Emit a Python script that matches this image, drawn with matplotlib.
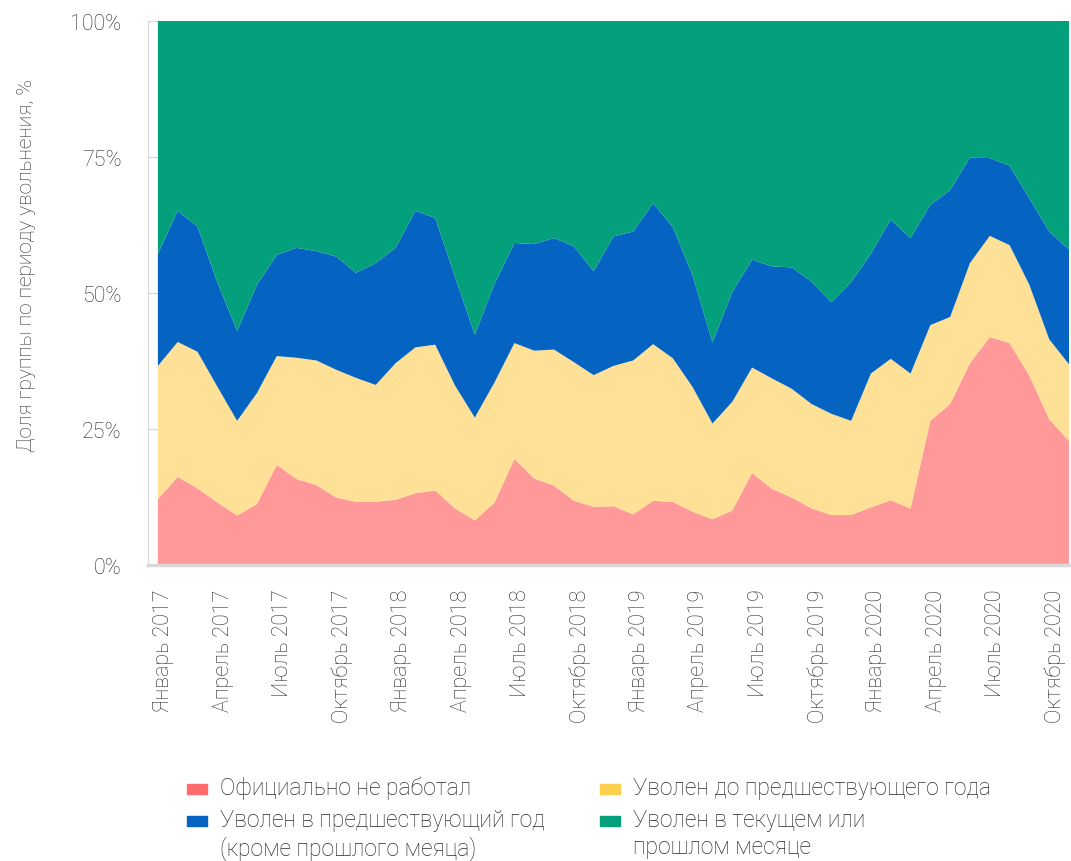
import matplotlib
matplotlib.use('Agg')
import matplotlib.pyplot as plt
import matplotlib.transforms as mtransforms
from matplotlib.patches import Rectangle
import numpy as np

plt.rcParams['font.family'] = ['Roboto', 'DejaVu Sans']

# Доли групп (в %), январь 2017 - ноябрь 2020, по месяцам
ne_rabotal = [12.1, 16.2, 14.1, 11.5, 9.1, 11.2, 18.4, 15.8, 14.7, 12.4,
              11.6, 11.6, 12.0, 13.2, 13.7, 10.4, 8.2, 11.5, 19.5, 15.9,
              14.6, 11.8, 10.7, 10.8, 9.3, 11.8, 11.6, 9.8, 8.4, 10.0,
              16.9, 14.0, 12.4, 10.4, 9.2, 9.2, 10.6, 11.9, 10.4, 26.5,
              29.6, 37.1, 41.9, 40.8, 34.8, 26.8, 22.8]
do_pred_goda = [24.5, 24.8, 25.1, 21.3, 17.4, 20.4, 20.0, 22.3, 22.9, 23.5,
                22.8, 21.5, 25.1, 26.8, 26.8, 22.6, 18.9, 22.1, 21.3, 23.5,
                25.0, 25.5, 24.2, 25.8, 28.3, 28.8, 26.4, 22.9, 17.6, 20.0,
                19.4, 20.3, 20.0, 19.2, 18.6, 17.3, 24.6, 26.0, 24.8, 17.6,
                16.0, 18.4, 18.6, 18.0, 16.7, 14.7, 14.1]
v_pred_god = [20.6, 24.1, 23.0, 19.2, 16.5, 19.9, 18.6, 20.2, 20.1, 20.8,
              19.3, 22.4, 21.2, 25.1, 23.3, 20.0, 15.2, 18.1, 18.4, 19.6,
              20.5, 21.3, 19.1, 23.8, 23.7, 25.9, 24.1, 20.5, 14.9, 20.2,
              19.8, 20.6, 22.3, 22.5, 20.5, 25.5, 22.0, 25.6, 24.9, 22.1,
              23.3, 19.4, 14.3, 14.6, 15.9, 19.8, 21.1]
v_tekushem = [42.8, 34.9, 37.8, 48.0, 57.0, 48.5, 43.0, 41.7, 42.3, 43.3,
              46.3, 44.5, 41.7, 34.9, 36.2, 47.0, 57.7, 48.3, 40.8, 41.0,
              39.9, 41.4, 46.0, 39.6, 38.7, 33.5, 37.9, 46.8, 59.1, 49.8,
              43.9, 45.1, 45.3, 47.9, 51.7, 48.0, 42.8, 36.5, 39.9, 33.8,
              31.1, 25.1, 25.2, 26.6, 32.6, 38.7, 42.0]

months = ['Январь', 'Апрель', 'Июль', 'Октябрь']
years = [2017, 2018, 2019, 2020]
tick_labels = [m + ' ' + str(y) for y in years for m in months]

labels = ['Официально не работал',
          'Уволен до предшествующего года',
          'Уволен в предшествующий год\n(кроме прошлого меяца)',
          'Уволен в текущем или\nпрошлом месяце']
area_colors = ['#FF9898', '#FEE196', '#0563C1', '#04A07B']
legend_colors = ['#FF6B6B', '#FFD050', '#0563C1', '#04A07B']
text_color = '#2b2b2b'

x = np.arange(len(ne_rabotal))
data = np.array([ne_rabotal, do_pred_goda, v_pred_god, v_tekushem])
data = data / data.sum(axis=0) * 100

fig = plt.figure(figsize=(10.71, 8.62), dpi=100)
ax = fig.add_axes([148 / 1071, 296 / 862, 921 / 1071, 544 / 862])

ax.stackplot(x, data, colors=area_colors, linewidth=0, zorder=2)

ax.set_xlim(-0.5, 46)
ax.set_ylim(0, 100)
ax.set_yticks([0, 25, 50, 75, 100])
ax.set_yticklabels(['0%', '25%', '50%', '75%', '100%'])
ax.set_xticks(x[::3])
ax.set_xticklabels(tick_labels, rotation=90)
ax.tick_params(axis='both', length=0, labelsize=15.5, colors=text_color)
ax.tick_params(axis='y', pad=19)
ax.tick_params(axis='x', pad=17)
shift = mtransforms.ScaledTranslation(6 / 100, 0, fig.dpi_scale_trans)
for lab in ax.get_xticklabels():
    lab.set_transform(lab.get_transform() + shift)
for lab in ax.get_xticklabels() + ax.get_yticklabels():
    lab.set_fontweight('light')

ax.grid(axis='y', color='#D9D9D9', linewidth=1, zorder=0)
ax.set_axisbelow(True)
for s in ['top', 'right']:
    ax.spines[s].set_visible(False)
ax.spines['left'].set_color('#D9D9D9')
ax.spines['bottom'].set_color('#D9D9D9')
ax.spines['bottom'].set_linewidth(2.5)

ax.set_ylabel('Доля группы по периоду увольнения, %', fontsize=15,
              color=text_color, fontweight='light')
ax.yaxis.set_label_coords(-0.1216, 0.553)

# Легенда
pos = [(187, 790), (600, 790), (187, 822), (600, 822)]
for (px, py), c, t in zip(pos, legend_colors, labels):
    fig.patches.append(Rectangle((px / 1071, (862 - py - 5) / 862), 20 / 1071, 10 / 862,
                                 transform=fig.transFigure, color=c))
    fig.text((px + 33) / 1071, (862 - py + 13) / 862, t, fontsize=16.5,
             color=text_color, fontweight='light', va='top', ha='left',
             linespacing=1.25)

fig.savefig('out.png', dpi=100)
